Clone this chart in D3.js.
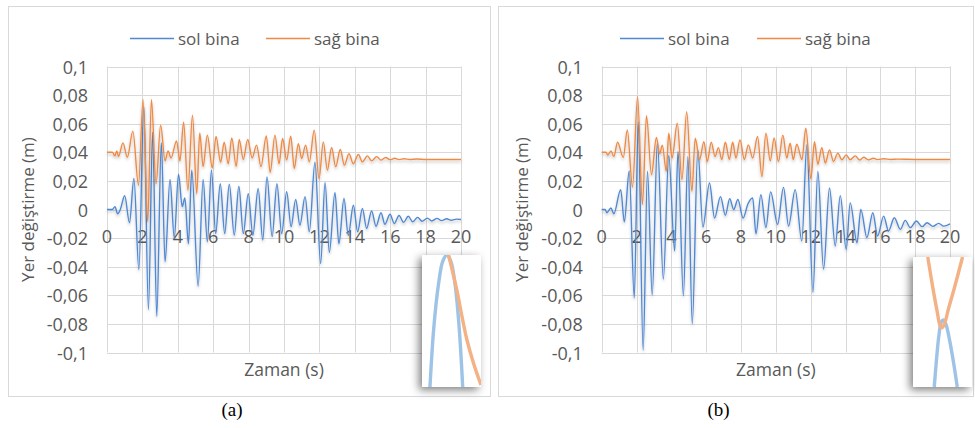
<!DOCTYPE html>
<html>
<head>
<meta charset="utf-8">
<script src="https://cdnjs.cloudflare.com/ajax/libs/d3/7.8.5/d3.min.js"></script>
<style>
  body { margin: 0; background: #fff; }
  text { font-family: "Open Sans", "Noto Sans", sans-serif; fill: #595959; }
</style>
</head>
<body>
<div id="chart"></div>
<script>
// axis ticks
const xTicks = [0, 2, 4, 6, 8, 10, 12, 14, 16, 18, 20];
const yTicks = [-0.1, -0.08, -0.06, -0.04, -0.02, 0, 0.02, 0.04, 0.06, 0.08, 0.1];
const seriesNames = ["sol bina", "sağ bina"];

// (a) sol bina — peaks / troughs [t (s), displacement (m)]
const solA = [[0,0],[0.3,0],[0.45,0.002],[0.6,-0.003],[0.75,0],[1.0,0.0096],[1.27,-0.0093],[1.52,0.0217],
  [1.8,-0.042],[2.08,0.072],[2.34,-0.07],[2.58,0.054],[2.81,-0.0746],[3.07,0.0466],[3.28,-0.0366],[3.56,0.021],
  [3.8,-0.02],[4.04,0.0247],[4.25,0.002],[4.4,0.008],[4.6,-0.024],[4.79,0.0275],[5.15,-0.0536],[5.43,0.021],
  [5.67,-0.0226],[5.9,0.0275],[6.14,-0.0168],[6.4,0.018],[6.65,-0.0168],[6.91,0.0177],[7.19,-0.018],[7.45,0.0163],
  [7.7,-0.0168],[7.98,0.011],[8.24,-0.018],[8.54,0.0147],[8.8,-0.0214],[9.04,0.0228],[9.33,-0.019],[9.6,0.018],
  [9.87,-0.017],[10.15,0.0124],[10.4,-0.012],[10.66,0.007],[10.9,-0.011],[11.19,0.009],[11.43,-0.0156],[11.75,0.033],
  [12.07,-0.0378],[12.32,0.019],[12.56,-0.03],[12.88,0.012],[13.1,-0.024],[13.39,0.0077],[13.63,-0.018],[13.92,0.003],
  [14.16,-0.0156],[14.43,0.0007],[14.67,-0.0133],[14.95,-0.001],[15.2,-0.0117],[15.48,-0.0023],[15.7,-0.0103],
  [15.99,-0.0033],[16.23,-0.0098],[16.5,-0.0042],[16.76,-0.009],[17.02,-0.0047],[17.27,-0.0086],[17.55,-0.0055],
  [17.8,-0.0082],[18.1,-0.006],[18.35,-0.008],[18.65,-0.0062],[18.9,-0.0078],[19.2,-0.0065],[19.45,-0.0075],
  [19.75,-0.0067],[20,-0.007]];

// (a) sağ bina
const sagA = [[0,0.04],[0.3,0.04],[0.45,0.0375],[0.55,0.041],[0.65,0.037],[0.9,0.0466],[1.15,0.0365],[1.46,0.0548],
  [1.78,0.017],[2.04,0.077],[2.3,-0.0086],[2.51,0.077],[2.77,0.018],[3.03,0.059],[3.28,0.034],[3.45,0.041],
  [3.62,0.036],[3.93,0.048],[4.12,0.034],[4.33,0.061],[4.57,0.0135],[4.83,0.066],[5.07,0.011],[5.24,0.0536],
  [5.43,0.03],[5.67,0.052],[5.95,0.029],[6.16,0.051],[6.42,0.033],[6.62,0.047],[6.85,0.032],[7.05,0.05],
  [7.3,0.03],[7.47,0.049],[7.7,0.035],[7.95,0.049],[8.2,0.036],[8.45,0.045],[8.7,0.03],[9.0,0.0515],
  [9.22,0.026],[9.49,0.052],[9.72,0.032],[9.92,0.0497],[10.15,0.0345],[10.38,0.0513],[10.58,0.0287],[10.81,0.046],
  [11.0,0.0357],[11.22,0.045],[11.43,0.0333],[11.71,0.0555],[11.98,0.0215],[12.22,0.0473],[12.45,0.0275],
  [12.69,0.0434],[12.92,0.0298],[13.18,0.042],[13.41,0.031],[13.67,0.039],[13.92,0.032],[14.2,0.0385],
  [14.43,0.0333],[14.71,0.0375],[14.95,0.034],[15.24,0.037],[15.48,0.0345],[15.74,0.0364],[16.0,0.0348],
  [16.25,0.0358],[16.5,0.0349],[16.8,0.0355],[17.1,0.035],[17.5,0.0353],[18,0.035],[19,0.035],[20,0.035]];

// (b) sol bina
const solB = [[0,0],[0.2,0],[0.29,-0.0023],[0.53,0.001],[0.7,-0.003],[1.09,0.0139],[1.3,-0.0086],[1.58,0.027],
  [1.87,-0.0619],[2.1,0.0614],[2.38,-0.0985],[2.63,0.0267],[2.9,-0.0598],[3.2,0.0468],[3.54,-0.0487],[3.85,0.0378],
  [4.19,-0.029],[4.38,0.0406],[4.69,-0.0603],[4.95,0.037],[5.2,-0.08],[5.52,0.0417],[5.81,-0.0123],[6.19,0.0185],
  [6.48,-0.006],[6.82,0.009],[7.1,-0.004],[7.35,0.0075],[7.58,0.0],[7.82,0.007],[8.12,-0.006],[8.4,0.004],
  [8.67,0.008],[8.86,-0.017],[9.14,0.0104],[9.43,-0.0127],[9.7,0.0123],[10.1,-0.0104],[10.44,0.0155],
  [10.73,-0.0116],[11.11,0.0139],[11.49,-0.022],[11.78,0.0452],[12.13,-0.058],[12.41,0.0267],[12.74,-0.0417],
  [13.08,0.015],[13.41,-0.0255],[13.7,0.0097],[14.04,-0.0278],[14.27,0.0046],[14.66,-0.0232],[14.88,0.0],
  [15.23,-0.0197],[15.57,-0.0023],[15.84,-0.0185],[16.19,-0.0046],[16.47,-0.015],[16.8,-0.0058],[17.15,-0.0139],
  [17.43,-0.0076],[17.72,-0.0127],[18.07,-0.008],[18.4,-0.012],[18.68,-0.0093],[19.02,-0.0118],[19.35,-0.0097],
  [19.64,-0.0116],[20,-0.01]];

// (b) sağ bina
const sagB = [[0,0.04],[0.25,0.04],[0.35,0.038],[0.53,0.041],[0.7,0.037],[0.91,0.047],[1.24,0.0364],[1.47,0.0556],
  [1.77,0.0156],[2.06,0.0788],[2.34,0.0035],[2.57,0.0656],[2.86,0.0243],[3.14,0.0503],[3.33,0.039],[3.48,0.045],
  [3.71,0.0267],[3.85,0.0533],[4.04,0.036],[4.34,0.0603],[4.61,0.0209],[4.88,0.0684],[5.18,0.0127],[5.37,0.0498],
  [5.62,0.0348],[5.87,0.0475],[6.06,0.0335],[6.29,0.047],[6.51,0.037],[6.7,0.0433],[6.9,0.035],[7.1,0.047],
  [7.33,0.035],[7.52,0.047],[7.71,0.036],[7.94,0.0487],[8.19,0.035],[8.42,0.0452],[8.67,0.036],[8.95,0.051],
  [9.2,0.023],[9.43,0.0533],[9.68,0.034],[9.9,0.05],[10.15,0.0335],[10.4,0.052],[10.63,0.036],[10.82,0.0463],
  [11.0,0.035],[11.2,0.0457],[11.5,0.035],[11.72,0.0568],[12.01,0.0216],[12.22,0.0475],[12.41,0.0316],
  [12.64,0.0433],[12.84,0.0324],[13.08,0.0417],[13.31,0.0336],[13.56,0.0394],[13.79,0.0348],[14.04,0.0382],
  [14.27,0.0348],[14.56,0.0375],[14.8,0.0346],[15.05,0.0365],[15.3,0.0347],[15.6,0.0358],[15.85,0.0349],
  [16.2,0.0355],[16.6,0.035],[17,0.0352],[18,0.035],[19,0.035],[20,0.035]];

// zoom-in insets, points in box units [across, up]
const insetSolA = [[0.135,0],[0.2,0.45],[0.28,0.78],[0.35,0.95],[0.42,1],[0.49,0.95],[0.56,0.78],[0.63,0.45],[0.69,0]];
const insetSagA = [[0.45,1],[0.52,0.87],[0.59,0.735],[0.68,0.53],[0.76,0.36],[0.88,0.17],[1.0,0.015]];
const insetSolB = [[0.36,0],[0.4,0.22],[0.44,0.4],[0.48,0.5],[0.515,0.515],[0.56,0.48],[0.62,0.36],[0.69,0.18],[0.75,0]];
const insetSagB = [[0.25,1],[0.33,0.78],[0.41,0.58],[0.46,0.47],[0.49,0.455],[0.53,0.48],[0.6,0.6],[0.7,0.76],[0.84,1]];

const colors = ["#5089D3", "#EF8A45"];
const insetColors = ["#9DC3E6", "#F4B183"];

const panels = [
  { caption: "(a)", box: [8, 6, 482, 390], plot: [107, 66.5, 461, 352.5], yTitleX: 27,
    legendX: [130, 266], sol: solA, sag: sagA,
    inset: { x: 422, y: 255, w: 59, h: 132, sol: insetSolA, sag: insetSagA } },
  { caption: "(b)", box: [498, 6, 475, 390], plot: [601.7, 66.5, 950, 352.5], yTitleX: 521,
    legendX: [620, 757], sol: solB, sag: sagB,
    inset: { x: 913, y: 257, w: 59, h: 130, sol: insetSolB, sag: insetSagB } }
];

const W = 975, H = 428;
const svg = d3.select("#chart").append("svg")
  .attr("width", W).attr("height", H)
  .style("display", "block");

svg.append("rect").attr("width", W).attr("height", H).attr("fill", "#fff");

const defs = svg.append("defs");
const lineShadow = defs.append("filter").attr("id", "lineShadow")
  .attr("x", "-5%").attr("y", "-10%").attr("width", "110%").attr("height", "130%");
lineShadow.append("feDropShadow").attr("dx", 0).attr("dy", 2).attr("stdDeviation", 1.5)
  .attr("flood-color", "#000").attr("flood-opacity", 0.25);
const boxShadow = defs.append("filter").attr("id", "boxShadow")
  .attr("x", "-40%").attr("y", "-20%").attr("width", "170%").attr("height", "150%");
boxShadow.append("feDropShadow").attr("dx", -3).attr("dy", 3).attr("stdDeviation", 4.5)
  .attr("flood-color", "#000").attr("flood-opacity", 0.5);
const soft = defs.append("filter").attr("id", "soft");
soft.append("feGaussianBlur").attr("stdDeviation", 0.7);

const fmt = v => String(v).replace(".", ",");

panels.forEach(function(p) {
  const g = svg.append("g");
  const [bx, by, bw, bh] = p.box;
  g.append("rect").attr("x", bx + 0.5).attr("y", by + 0.5).attr("width", bw).attr("height", bh)
    .attr("fill", "#fff").attr("stroke", "#D9D9D9").attr("stroke-width", 1);

  const [x0, y0, x1, y1] = p.plot;
  const x = d3.scaleLinear().domain([0, 20]).range([x0, x1]);
  const y = d3.scaleLinear().domain([-0.1, 0.1]).range([y1, y0]);

  // grid
  g.append("g").selectAll("line").data(yTicks).join("line")
    .attr("x1", x0).attr("x2", x1)
    .attr("y1", d => Math.round(y(d)) + 0.5).attr("y2", d => Math.round(y(d)) + 0.5)
    .attr("stroke", "#D9D9D9").attr("stroke-width", 1);
  g.append("g").selectAll("line").data(xTicks).join("line")
    .attr("y1", y0).attr("y2", y1)
    .attr("x1", d => Math.round(x(d)) + 0.5).attr("x2", d => Math.round(x(d)) + 0.5)
    .attr("stroke", "#D9D9D9").attr("stroke-width", 1);

  // y tick labels
  g.append("g").selectAll("text").data(yTicks).join("text")
    .attr("x", x0 - 19).attr("y", d => y(d))
    .attr("text-anchor", "end").attr("dominant-baseline", "central")
    .style("font-size", "18px")
    .text(fmt);

  // x tick labels sit under the zero line
  g.append("g").selectAll("text").data(xTicks).join("text")
    .attr("x", d => x(d)).attr("y", y(0) + 33)
    .attr("text-anchor", "middle")
    .style("font-size", "18px")
    .text(d => d);

  // axis titles
  g.append("text")
    .attr("transform", "translate(" + p.yTitleX + "," + ((y0 + y1) / 2) + ") rotate(-90)")
    .attr("text-anchor", "middle").attr("dominant-baseline", "central")
    .style("font-size", "17px")
    .text("Yer değiştirme (m)");
  g.append("text")
    .attr("x", (x0 + x1) / 2).attr("y", 376)
    .attr("text-anchor", "middle")
    .style("font-size", "17.5px")
    .text("Zaman (s)");

  // series
  const line = d3.line().x(d => x(d[0])).y(d => y(d[1])).curve(d3.curveMonotoneX);
  [p.sol, p.sag].forEach(function(s, i) {
    g.append("path").datum(s)
      .attr("d", line)
      .attr("fill", "none")
      .attr("stroke", colors[i])
      .attr("stroke-width", 1.4)
      .attr("stroke-linejoin", "round")
      .attr("filter", "url(#lineShadow)");
  });

  // legend
  seriesNames.forEach(function(name, i) {
    const lx = p.legendX[i];
    g.append("line").attr("x1", lx).attr("x2", lx + 44).attr("y1", 38.5).attr("y2", 38.5)
      .attr("stroke", colors[i]).attr("stroke-width", 1.5);
    g.append("text").attr("x", lx + 48).attr("y", 38)
      .attr("dominant-baseline", "central")
      .style("font-size", "17px")
      .text(name);
  });

  // inset
  const ins = p.inset;
  const ix = d3.scaleLinear().domain([0, 1]).range([ins.x, ins.x + ins.w]);
  const iy = d3.scaleLinear().domain([0, 1]).range([ins.y + ins.h, ins.y]);
  g.append("rect").attr("x", ins.x).attr("y", ins.y).attr("width", ins.w).attr("height", ins.h)
    .attr("fill", "#fff").attr("filter", "url(#boxShadow)");
  const clipId = "clip" + p.caption.replace(/[()]/g, "");
  defs.append("clipPath").attr("id", clipId).append("rect")
    .attr("x", ins.x).attr("y", ins.y).attr("width", ins.w).attr("height", ins.h);
  const iline = d3.line().x(d => ix(d[0])).y(d => iy(d[1])).curve(d3.curveCatmullRom);
  const ig = g.append("g").attr("clip-path", "url(#" + clipId + ")");
  [[ins.sol, 0], [ins.sag, 1]].forEach(function(pair) {
    ig.append("path").datum(pair[0])
      .attr("d", iline)
      .attr("fill", "none")
      .attr("stroke", insetColors[pair[1]])
      .attr("stroke-width", 3.4)
      .attr("filter", "url(#soft)");
  });

  // caption
  g.append("text")
    .attr("x", (bx + bx + bw) / 2 - 17).attr("y", 416)
    .attr("text-anchor", "middle")
    .style("font-family", "'Liberation Serif', 'DejaVu Serif', serif")
    .style("font-size", "19px")
    .style("fill", "#000")
    .text(p.caption);
});
</script>
</body>
</html>
